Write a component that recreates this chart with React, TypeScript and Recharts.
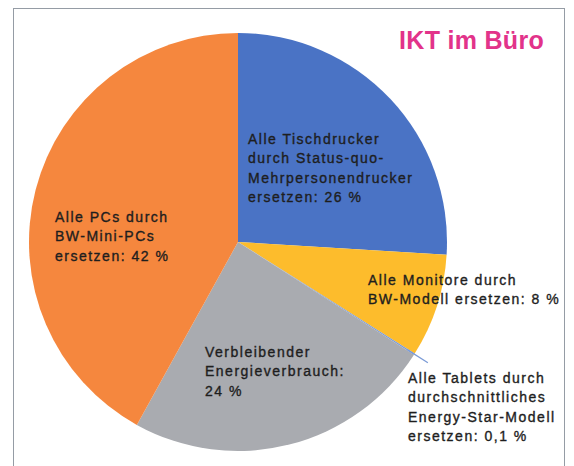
import React from 'react';
import { PieChart, Pie, Cell } from 'recharts';

const categories = [
  'Tischdrucker',
  'Monitore',
  'Tablets',
  'Verbleibender Energieverbrauch',
  'PCs',
];
const shares = [26, 8, 0.1, 24, 42];
const labelLines = [
  ['Alle Tischdrucker', 'durch Status-quo-', 'Mehrpersonendrucker', 'ersetzen: 26 %'],
  ['Alle Monitore durch', 'BW-Modell ersetzen: 8 %'],
  ['Alle Tablets durch', 'durchschnittliches', 'Energy-Star-Modell', 'ersetzen: 0,1 %'],
  ['Verbleibender', 'Energieverbrauch:', '24 %'],
  ['Alle PCs durch', 'BW-Mini-PCs', 'ersetzen: 42 %'],
];
const title = 'IKT im Büro';

const COLORS = ['#4a73c5', '#fdbc2c', '#7b9bd6', '#a9abb0', '#f5873e'];
const LABEL_POS = [
  { x: 248, y: 144 },
  { x: 368, y: 285 },
  { x: 408, y: 383 },
  { x: 205, y: 357 },
  { x: 55, y: 222 },
];
const LINE_H = 19.3;

const data = categories.map((c, i) => ({ name: c, value: shares[i] }));

const RAD = Math.PI / 180;

const renderLabel = (props: any) => {
  const i = props.index;
  const p = LABEL_POS[i];
  const lines = labelLines[i];
  let leader = null;
  if (i === 2) {
    const a = -props.midAngle * RAD;
    const r1 = props.outerRadius - 8;
    const r2 = props.outerRadius + 16;
    leader = (
      <line
        x1={props.cx + r1 * Math.cos(a)}
        y1={props.cy + r1 * Math.sin(a)}
        x2={props.cx + r2 * Math.cos(a)}
        y2={props.cy + r2 * Math.sin(a)}
        stroke="#7b9bd6"
        strokeWidth={1.2}
      />
    );
  }
  return (
    <g key={'lbl' + i}>
      {leader}
      <text
        x={p.x}
        y={p.y}
        fill="#1e1e1e"
        stroke="#1e1e1e"
        strokeWidth={0.35}
        fontFamily="'Liberation Sans', Arial, sans-serif"
        fontSize={14}
        letterSpacing={1.5}
        textAnchor="start"
      >
        {lines.map((l, k) => (
          <tspan key={k} x={p.x} dy={k === 0 ? 0 : LINE_H}>
            {l}
          </tspan>
        ))}
      </text>
    </g>
  );
};

export default function App() {
  return (
    <div style={{ position: 'absolute', left: 0, top: 0, width: 574, height: 466, background: '#ffffff', overflow: 'hidden' }}>
      <div
        style={{
          position: 'absolute',
          left: 13,
          top: 8,
          width: 552,
          height: 480,
          border: '1.5px solid #959ca5',
          boxSizing: 'border-box',
        }}
      />
      <div style={{ position: 'absolute', left: 0, top: 0 }}>
        <PieChart width={574} height={466} margin={{ top: 0, right: 0, bottom: 0, left: 0 }}>
          <text
            x={544}
            y={49}
            textAnchor="end"
            fill="#e2338a"
            fontFamily="'Liberation Sans', Arial, sans-serif"
            fontWeight="bold"
            fontSize={25}
            letterSpacing={0.3}
          >
            {title}
          </text>
          <Pie
            data={data}
            dataKey="value"
            nameKey="name"
            cx={238}
            cy={242}
            outerRadius={209}
            startAngle={90}
            endAngle={-270}
            stroke="none"
            isAnimationActive={false}
            label={renderLabel}
            labelLine={false}
          >
            {data.map((d, i) => (
              <Cell key={d.name} fill={COLORS[i]} />
            ))}
          </Pie>
        </PieChart>
      </div>
    </div>
  );
}
